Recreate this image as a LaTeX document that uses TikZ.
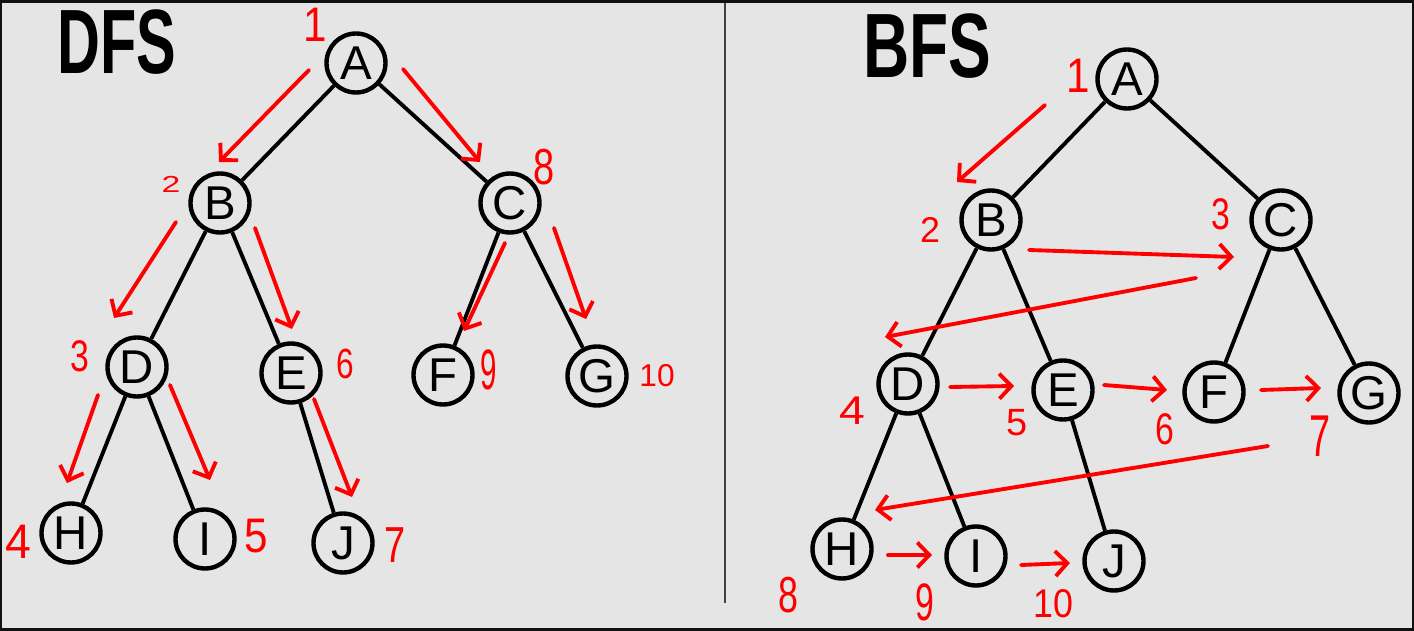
\documentclass[tikz,border=0pt]{standalone}
\usepackage{fontspec}
\setmainfont{Liberation Sans}
\usetikzlibrary{arrows.meta,calc}

\definecolor{paper}{HTML}{E5E5E5}
\definecolor{frame}{HTML}{111111}
\definecolor{ink}{HTML}{FF0000}

\tikzset{
  vertex/.style={circle,draw=black,line width=2.5pt,minimum size=1.18cm,inner sep=0pt,
    font=\fontsize{27}{27}\selectfont},
  edge/.style={draw=black,line width=2.2pt},
  trav/.style={draw=ink,line width=2.2pt,line cap=round,
    -{Straight Barb[length=2.4mm,width=5mm]}},
  num/.style={text=ink,inner sep=0pt,font=\fontsize{24}{24}\selectfont},
  title/.style={inner sep=0pt,font=\fontsize{52}{52}\selectfont\bfseries},
  divider/.style={draw=black!75,line width=1pt}
}

\begin{document}
\begin{tikzpicture}[x=0.02cm,y=-0.02cm]
    % Frame and paper
    \useasboundingbox (0,0) rectangle (1414,631);
    \fill[frame] (0,0) rectangle (1414,631);
    \fill[paper] (2,3) rectangle (1412,628);
    \draw[divider] (725,3) -- (725,603);

    % DFS tree
    \node[title,xscale=0.65] (tDFS) at (117,42) {DFS};
    \node[vertex] (dA) at (356,63) {A};
    \node[vertex] (dB) at (220,203) {B};
    \node[vertex] (dC) at (510,203) {C};
    \node[vertex] (dD) at (137,367) {D};
    \node[vertex] (dE) at (291,373) {E};
    \node[vertex] (dF) at (443,375) {F};
    \node[vertex] (dG) at (597,376) {G};
    \node[vertex] (dH) at (71,533) {H};
    \node[vertex] (dI) at (205,539) {I};
    \node[vertex] (dJ) at (343,543) {J};
    \foreach \u/\v in {dA/dB,dA/dC,dB/dD,dB/dE,dC/dF,dC/dG,dD/dH,dD/dI,dE/dJ}
        \draw[edge] (\u) -- (\v);

    % DFS visiting arrows
    \draw[trav] ($(dA)+(-47,7)$) -- ($(dB)+(-1,-41)$);
    \draw[trav] ($(dA)+(47,6)$) -- ($(dC)+(-30,-41)$);
    \draw[trav] ($(dB)+(-44,19)$) -- ($(dD)+(-23,-49)$);
    \draw[trav] ($(dB)+(35,25)$) -- ($(dE)+(1,-44)$);
    \draw[trav] ($(dC)+(-5,40)$) -- ($(dF)+(21,-44)$);
    \draw[trav] ($(dC)+(44,25)$) -- ($(dG)+(-11,-57)$);
    \draw[trav] ($(dD)+(-39,28)$) -- ($(dH)+(-4,-50)$);
    \draw[trav] ($(dD)+(33,18)$) -- ($(dI)+(5,-59)$);
    \draw[trav] ($(dE)+(23,26)$) -- ($(dJ)+(9,-46)$);

    % DFS order numbers
    \foreach \n/\x/\y/\w/\h/\t in {dn1/315/25/1/1.15/1, dn2/171/184/0.8/0.55/2,
        dn3/80/356/0.8/1.05/3, dn4/18/542/1.1/1.15/4, dn5/256/536/1/1.15/5,
        dn6/345/364/0.75/1/6, dn7/395/545/0.9/1.2/7, dn8/544/167/0.9/1.2/8,
        dn9/489/370/0.7/1.35/9, dn10/657/376/0.75/0.75/10}
        \node[num,xscale=\w,yscale=\h] (\n) at (\x,\y) {\t};

    % BFS tree
    \node[title,xscale=0.7] (tBFS) at (927,46) {BFS};
    \node[vertex] (bA) at (1127,79) {A};
    \node[vertex] (bB) at (991,220) {B};
    \node[vertex] (bC) at (1281,220) {C};
    \node[vertex] (bD) at (908,384) {D};
    \node[vertex] (bE) at (1063,390) {E};
    \node[vertex] (bF) at (1214,392) {F};
    \node[vertex] (bG) at (1369,393) {G};
    \node[vertex] (bH) at (842,549) {H};
    \node[vertex] (bI) at (976,556) {I};
    \node[vertex] (bJ) at (1114,561) {J};
    \foreach \u/\v in {bA/bB,bA/bC,bB/bD,bB/bE,bC/bF,bC/bG,bD/bH,bD/bI,bE/bJ}
        \draw[edge] (\u) -- (\v);

    % BFS visiting arrows
    \draw[trav] ($(bA)+(-82,26)$) -- ($(bB)+(-34,-38)$);
    \draw[trav] ($(bB)+(38,30)$) -- ($(bC)+(-47,37)$);
    \draw[trav] ($(bC)+(-85,58)$) -- ($(bD)+(-23,-47)$);
    \draw[trav] ($(bD)+(42,3)$) -- ($(bE)+(-49,-4)$);
    \draw[trav] ($(bE)+(41,-5)$) -- ($(bF)+(-47,-2)$);
    \draw[trav] ($(bF)+(47,-2)$) -- ($(bG)+(-48,-5)$);
    \draw[trav] ($(bG)+(-101,53)$) -- ($(bH)+(33,-39)$);
    \draw[trav] ($(bH)+(46,6)$) -- ($(bI)+(-44,-1)$);
    \draw[trav] ($(bI)+(45,9)$) -- ($(bJ)+(-44,2)$);

    % BFS order numbers
    \foreach \n/\x/\y/\w/\h/\t in {bn1/1078/76/1/1.15/1, bn2/930/230/0.85/0.85/2,
        bn3/1221/214/0.8/1.05/3, bn4/852/411/1.1/0.95/4, bn5/1017/423/0.9/0.9/5,
        bn6/1165/429/0.8/1.05/6, bn7/1320/436/0.9/1.4/7, bn8/788/595/0.85/1.2/8,
        bn9/925/602/0.8/1.25/9, bn10/1053/604/0.85/0.95/10}
        \node[num,xscale=\w,yscale=\h] (\n) at (\x,\y) {\t};
\end{tikzpicture}
\end{document}
